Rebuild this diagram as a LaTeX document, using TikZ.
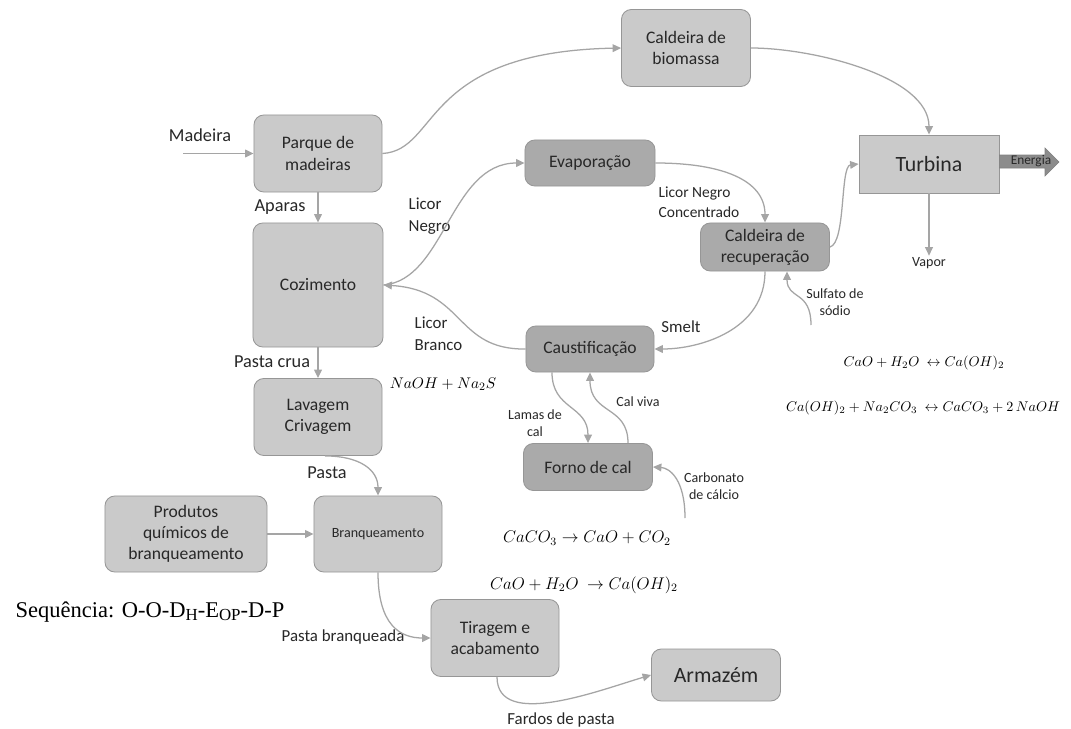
\documentclass[tikz,border=0pt]{standalone}
\usepackage{fontspec}
\setmainfont{Carlito}
\newfontfamily\timesfont{Liberation Serif}
\usetikzlibrary{arrows.meta,calc}
\definecolor{boxlight}{RGB}{202,202,202}
\definecolor{boxdark}{RGB}{170,170,170}
\definecolor{boxline}{RGB}{150,150,150}
\definecolor{flowgray}{RGB}{165,165,165}
\definecolor{textgray}{RGB}{40,40,40}
\definecolor{energygray}{RGB}{140,140,140}
\newcommand{\SUBLET}[1]{\raisebox{-0.12em}{\fontsize{12}{12}\selectfont #1}}

\begin{document}
\begin{tikzpicture}[x=0.025cm,y=-0.025cm,
    proc/.style={draw=boxline,line width=0.6pt,fill=boxlight,rounded corners=7pt,
      align=center,text=textgray,font=\fontsize{12.5}{15}\selectfont,inner sep=2pt},
    procdark/.style={proc,fill=boxdark},
    lab13/.style={text=textgray,font=\fontsize{13}{15.5}\selectfont,inner sep=1pt},
    lab12/.style={text=textgray,font=\fontsize{12}{15.5}\selectfont,inner sep=1pt},
    lab11/.style={text=textgray,font=\fontsize{11}{14}\selectfont,inner sep=1pt},
    lab10/.style={text=textgray,font=\fontsize{10}{12}\selectfont,inner sep=1pt,align=center},
    eq/.style={font=\fontsize{11.5}{14}\selectfont,inner sep=1pt},
    eqsmall/.style={font=\fontsize{10.2}{12}\selectfont,inner sep=1pt},
    flow/.style={draw=flowgray,line width=0.9pt,-{Triangle[length=6pt,width=5.5pt]}}]
    \useasboundingbox[fill=white] (0,0) rectangle (1071,729);
    % process boxes
    \node (parque)    at (318,153.5) [proc,minimum width=3.2cm,minimum height=1.925cm] {Parque de\\madeiras};
    \node (biomassa)  at (686,48)    [proc,minimum width=3.225cm,minimum height=1.925cm] {Caldeira de\\biomassa};
    \node (turbina)   at (929,164)   [proc,rounded corners=0pt,minimum width=3.5cm,minimum height=1.45cm,
                                      font=\fontsize{15.5}{18}\selectfont] {Turbina};
    \node (evap)      at (590,163)   [procdark,minimum width=3.25cm,minimum height=1.15cm] {Evaporação};
    \node (recup)     at (765,247)   [procdark,minimum width=3.225cm,minimum height=1.2cm] {Caldeira de\\recuperação};
    \node (cozimento) at (318,285)   [proc,minimum width=3.25cm,minimum height=3.1cm] {Cozimento};
    \node (caustif)   at (590,349)   [procdark,minimum width=3.2cm,minimum height=1.15cm] {Caustificação};
    \node (forno)     at (588,467)   [procdark,minimum width=3.225cm,minimum height=1.175cm] {Forno de cal};
    \node (lavagem)   at (318,417)   [proc,minimum width=3.2cm,minimum height=1.925cm] {Lavagem\\Crivagem};
    \node (branq)     at (378,534)   [proc,minimum width=3.2cm,minimum height=1.9cm,
                                      font=\fontsize{10}{12}\selectfont] {Branqueamento};
    \node (produtos)  at (186,534)   [proc,minimum width=4.05cm,minimum height=1.9cm] {Produtos\\químicos de\\branqueamento};
    \node (tiragem)   at (495,638)   [proc,minimum width=3.2cm,minimum height=1.925cm] {Tiragem e\\acabamento};
    \node (armazem)   at (716,675)   [proc,minimum width=3.225cm,minimum height=1.3cm,
                                      font=\fontsize{15.5}{18}\selectfont] {Armazém};
    % free ends
    \coordinate (madeiraIn) at (183,153.5);
    \coordinate (sulfatoIn) at (811,325);
    \coordinate (carbIn)    at (685,518);
    % labels
    \node (lblmadeira)  at (200,135) [lab13] {Madeira};
    \node (lblaparas)   at (280,207) [lab13] {Aparas};
    \node (lblnegro)    at (407,216) [lab12,anchor=west,align=left] {Licor\\Negro};
    \node (lblconc)     at (657,202) [lab11,anchor=west,align=left] {Licor Negro\\Concentrado};
    \node (lblbranco)   at (413,334) [lab12,anchor=west,align=left] {Licor\\Branco};
    \node (lblsmelt)    at (681,327) [lab12] {Smelt};
    \node (lblsulfato)  at (835,302) [lab10] {Sulfato de\\sódio};
    \node (lblvapor)    at (929,263) [lab10] {Vapor};
    \node (lblpastacrua) at (272,362) [lab13] {Pasta crua};
    \node (lbllamas)    at (535,423) [lab10] {Lamas de\\cal};
    \node (lblcalviva)  at (638,402) [lab10] {Cal viva};
    \node (lblcarb)     at (714,486) [lab10] {Carbonato\\de cálcio};
    \node (lblpasta)    at (327,473) [lab13] {Pasta};
    \node (lblpastabr)  at (343,637) [lab12] {Pasta branqueada};
    \node (lblfardos)   at (561,720) [lab12] {Fardos de pasta};
    % reactions
    \node (eqnaoh)  at (443,384) [eq,font=\fontsize{10.8}{13}\selectfont] {$NaOH + Na_2S$};
    \node (eqcaco)  at (587,538) [eq] {$CaCO_3 \rightarrow CaO + CO_2$};
    \node (eqcao)   at (584,585) [eq] {$CaO + H_2O\ \rightarrow Ca(OH)_2$};
    \node (eqcaoR)  at (924,363) [eqsmall] {$CaO + H_2O\ \leftrightarrow Ca(OH)_2$};
    \node (eqcaust) at (923,408) [eqsmall] {$Ca(OH)_2 + Na_2CO_3\ \leftrightarrow CaCO_3 + 2\,NaOH$};
    \node (sequencia) at (150,612) [font=\timesfont\fontsize{16}{18}\selectfont,inner sep=0pt]
      {Sequência: O-O-D\SUBLET{H}-E\SUBLET{OP}-D-P};
    % energy arrow
    \draw[fill=energygray,draw=gray,line width=0.4pt] (turbina.east |- 0,155) -- (1045,155) -- (1045,148)
      -- (1059,162) -- (1045,176) -- (1045,168) -- (turbina.east |- 0,168) -- cycle;
    \node (energia) at (1031,161) [text=textgray,font=\fontsize{9.5}{10}\selectfont,inner sep=0pt] {Energia};
    % flows
    \draw[flow] (madeiraIn) -- (parque.west);
    \draw[flow] (parque.east) .. controls (440,150) and (420,52) .. (biomassa.west);
    \draw[flow] (biomassa.east) .. controls (812,48) and (929,76) .. (turbina.north);
    \draw[flow] (turbina.south) -- (lblvapor.north);
    \draw[flow] (parque.south) -- (cozimento.north);
    \draw[flow] (cozimento.east) .. controls (445,280) and (450,163) .. (evap.west);
    \draw[flow] (evap.east) .. controls (722,163) and (765,180) .. (recup.north);
    \draw[flow] (recup.east) .. controls (846,243) and (840,166) .. (turbina.west);
    \draw[flow] (recup.south) .. controls (765,330) and (700,349) .. (caustif.east);
    \draw[flow] (sulfatoIn) .. controls (811,290) and (787,300) .. ($(recup.south)+(22,0)$);
    \draw[flow] (caustif.west) .. controls (455,350) and (465,290) .. (cozimento.east);
    \draw[flow] ($(caustif.south)+(-38,0)$) .. controls (552,410) and (588,405) .. (forno.north);
    \draw[flow] ($(forno.north)+(40,0)$) .. controls (628,405) and (590,415) .. (caustif.south);
    \draw[flow] (carbIn) .. controls (685,480) and (670,468) .. (forno.east);
    \draw[flow] (cozimento.south) -- (lavagem.north);
    \draw[flow] ($(lavagem.south)+(7,0)$) .. controls (360,456) and (378,470) .. (branq.north);
    \draw[flow] (produtos.east) -- (branq.west);
    \draw[flow] (branq.south) .. controls (378,625) and (400,638) .. (tiragem.west);
    \draw[flow] ($(tiragem.south)+(2,0)$) .. controls (497,730) and (600,690) .. (armazem.west);
\end{tikzpicture}
\end{document}
